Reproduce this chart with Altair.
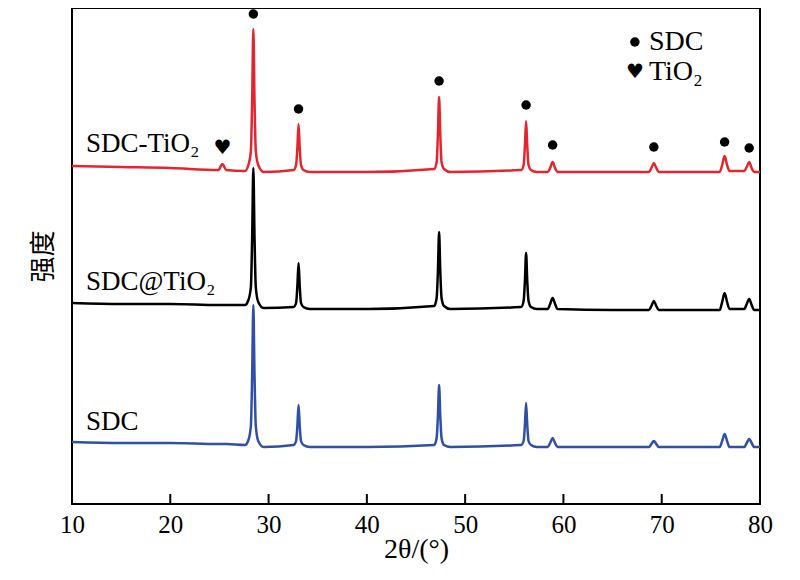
"""XRD patterns of SDC, SDC@TiO2 and SDC-TiO2, stacked with vertical offsets."""

import altair as alt
import pandas as pd

# 2θ grid shared by the three patterns (degrees)
two_theta = [10, 15, 20, 24.9, 25.3, 25.7, 27.6,
             27.95, 28.2, 28.33, 28.45, 28.57, 28.7, 28.95, 29.5,
             32.55, 32.8, 32.93, 33.05, 33.17, 33.3, 33.55, 34.2, 40,
             46.85, 47.1, 47.23, 47.35, 47.47, 47.6, 47.85, 48.5,
             55.7, 55.95, 56.08, 56.2, 56.32, 56.45, 56.7, 57.3,
             58.4, 58.65, 58.9, 59.15, 59.4, 65,
             68.7, 68.95, 69.2, 69.45, 69.7,
             75.9, 76.15, 76.4, 76.65, 76.9,
             78.4, 78.65, 78.9, 79.15, 79.4, 80]

# intensities (a.u.), before stacking
sdc = [7, 6, 6, 5, 5, 5, 4,
       9, 23, 74, 144, 74, 23, 8, 2,
       4, 8, 23, 44, 23, 8, 4, 2, 2,
       4, 11, 33, 64, 33, 11, 4, 2,
       4, 8, 24, 46, 24, 8, 4, 2,
       2, 6, 11, 6, 2, 2,
       2, 5, 8, 5, 2,
       2, 8, 15, 8, 2,
       2, 6, 10, 6, 2, 2]
sdc_at_tio2 = [11, 10, 10, 9, 9, 9, 9,
               14, 27, 77, 146, 77, 27, 12, 6,
               7, 11, 28, 51, 28, 11, 7, 5, 5,
               8, 16, 43, 82, 43, 16, 8, 5,
               7, 13, 33, 61, 33, 13, 7, 5,
               5, 10, 16, 10, 5, 4,
               4, 8, 13, 8, 4,
               4, 12, 21, 12, 5,
               5, 10, 15, 9, 4, 4]
sdc_tio2 = [8, 7, 6, 4, 10, 4, 3,
            9, 23, 74, 145, 74, 23, 9, 2,
            4, 9, 26, 50, 26, 9, 4, 2, 2,
            5, 12, 40, 77, 40, 12, 5, 2,
            4, 9, 28, 53, 28, 9, 4, 2,
            2, 6, 12, 6, 2, 2,
            2, 6, 11, 6, 2,
            2, 9, 18, 9, 3,
            3, 7, 12, 6, 2, 2]

samples = ["SDC", "SDC@TiO₂", "SDC-TiO₂"]
offsets = [55, 190, 330]
colours = ["#2f4fa8", "#000000", "#e3262e"]

# SDC reflections marked with dots above the SDC-TiO2 pattern, TiO2 with a heart
sdc_peaks = [28.45, 33.05, 47.35, 56.2, 58.9, 69.2, 76.4, 78.9]
sdc_marker_y = [490, 395, 423, 399, 359, 357, 362, 356]
tio2_peaks = [25.3]
tio2_marker_y = [356]

tick_labels = [10, 20, 30, 40, 50, 60, 70, 80]
ticks = [20, 30, 40, 50, 60, 70]

rows = []
for name, off, vals in zip(samples, offsets, [sdc, sdc_at_tio2, sdc_tio2]):
    assert len(vals) == len(two_theta)
    for i, (x, y) in enumerate(zip(two_theta, vals)):
        rows.append({"sample": name, "x": x, "y": y + off, "order": i})
df = pd.DataFrame(rows)

W, H = 688, 496
serif = "Liberation Serif"
# every layer uses the same x / y encodings so the axes merge cleanly
X = alt.X("x:Q", scale=alt.Scale(domain=[10, 80], nice=False), title="2θ/(°)",
          axis=alt.Axis(values=tick_labels, ticks=False, domain=False, grid=False,
                        labelFont=serif, labelFontSize=25, labelColor="black",
                        labelPadding=8, labelFlush=False,
                        titleFont=serif, titleFontSize=28, titleFontWeight="normal",
                        titleColor="black", titlePadding=-2))
Y = alt.Y("y:Q", scale=alt.Scale(domain=[0, H], nice=False), title="强度",
          axis=alt.Axis(labels=False, ticks=False, domain=False, grid=False,
                        titleFont="Noto Sans CJK SC", titleFontSize=26,
                        titleFontWeight="normal", titleColor="black", titlePadding=16))

lines = alt.Chart(df).mark_line(strokeWidth=2.5, interpolate="monotone", clip=True).encode(
    x=X, y=Y,
    color=alt.Color("sample:N", scale=alt.Scale(domain=samples, range=colours), legend=None),
    detail="sample:N",
    order="order:Q",
)

tick_marks = alt.Chart(pd.DataFrame({"x": ticks})).mark_rule(color="black", strokeWidth=2).encode(
    x=X, y=alt.value(H), y2=alt.value(H - 10))

dots = alt.Chart(pd.DataFrame({"x": sdc_peaks, "y": sdc_marker_y})).mark_point(
    shape="circle", filled=True, color="black", size=90, opacity=1).encode(x=X, y=Y)

hearts = alt.Chart(pd.DataFrame({"x": tio2_peaks, "y": tio2_marker_y})).mark_text(
    text="♥", font="DejaVu Sans", fontSize=20, color="black", baseline="middle").encode(x=X, y=Y)

labels_df = pd.DataFrame({"x": [11.42, 11.42, 11.42], "y": [74, 214, 352], "text": samples})
sample_labels = alt.Chart(labels_df).mark_text(
    font=serif, fontSize=27, color="black", align="left", baseline="alphabetic").encode(
    x=X, y=Y, text="text:N")

# legend, top right
legend_dot = alt.Chart(pd.DataFrame({"x": [67.27], "y": [462]})).mark_point(
    shape="circle", filled=True, color="black", size=90, opacity=1).encode(x=X, y=Y)
legend_heart = alt.Chart(pd.DataFrame({"x": [67.27], "y": [432]})).mark_text(
    text="♥", font="DejaVu Sans", fontSize=20, color="black", baseline="middle").encode(x=X, y=Y)
legend_txt = pd.DataFrame({"x": [68.7, 68.7], "y": [462, 432], "t": ["SDC", "TiO₂"]})
legend_text = alt.Chart(legend_txt).mark_text(
    font=serif, fontSize=28, color="black", align="left", baseline="middle").encode(
    x=X, y=Y, text="t:N")

chart = alt.layer(lines, tick_marks, dots, hearts, sample_labels,
                  legend_dot, legend_heart, legend_text).properties(
    width=W, height=H,
    autosize=alt.AutoSizeParams(type="none"),
    padding={"left": 64, "top": 0, "right": 30, "bottom": 70},
).configure_view(stroke="black", strokeWidth=2)

chart.save("out.html", embed_options={"renderer": "svg", "actions": False})
